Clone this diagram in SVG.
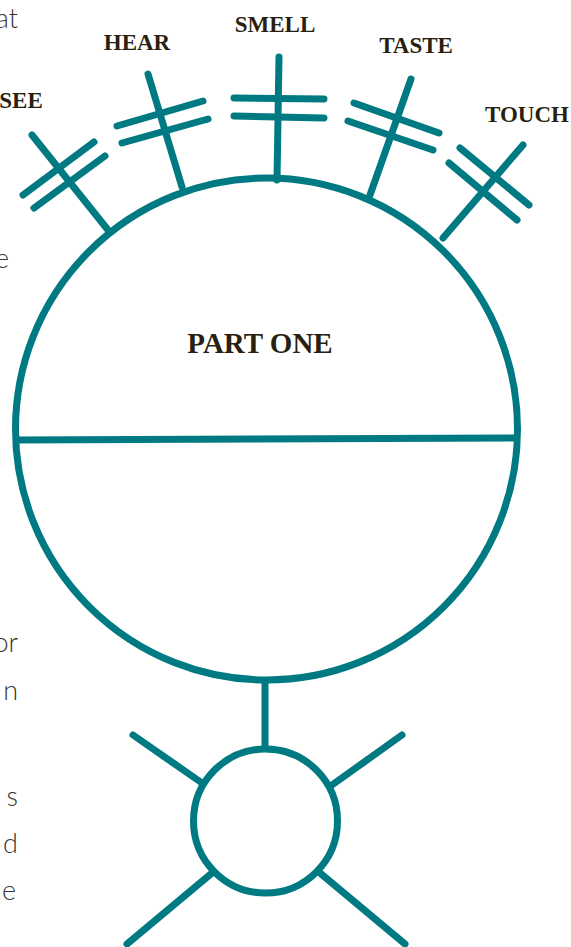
<svg xmlns="http://www.w3.org/2000/svg" width="571" height="947" viewBox="0 0 571 947">
<style>
.t{stroke:#007a82;stroke-width:7;fill:none;stroke-linecap:round}
.c{stroke:#007a82;stroke-width:7;fill:none}
.lbl{font-family:"Liberation Serif","Times New Roman",serif;font-weight:bold;fill:#2a1f10;font-size:23px;text-anchor:middle}
.frag{font-family:Lato,"Open Sans",sans-serif;font-weight:300;fill:#3a3530;font-size:27px;text-anchor:end}
</style>
<rect width="571" height="947" fill="#ffffff"/>
<g id="fragments">
<text class="frag" x="18" y="28">at</text>
<text class="frag" x="9" y="268">e</text>
<text class="frag" x="18" y="652">or</text>
<text class="frag" x="18" y="700">n</text>
<text class="frag" x="18" y="806">s</text>
<text class="frag" x="18" y="853">d</text>
<text class="frag" x="16" y="900">e</text>
</g>
<g id="connectors">
<line class="t" x1="265" y1="680" x2="265" y2="748" style="stroke-linecap:butt"/>
<line class="t" x1="133" y1="735" x2="202" y2="783"/>
<line class="t" x1="402" y1="735" x2="332" y2="785"/>
<line class="t" x1="212" y1="873" x2="127" y2="944"/>
<line class="t" x1="320" y1="873" x2="405" y2="944"/>
</g>
<g id="part-one">
<circle class="c" cx="266.5" cy="429" r="251"/>
<line class="c" x1="15" y1="440" x2="518" y2="438"/>
<text class="lbl" x="260" y="353" style="font-size:29px">PART ONE</text>
</g>
<g id="base">
<circle class="c" cx="265.5" cy="821" r="72"/>
</g>
<g id="see">
<line class="t" x1="32" y1="135" x2="108" y2="230"/>
<line class="t" x1="23" y1="195" x2="94" y2="142"/>
<line class="t" x1="34" y1="208" x2="105" y2="156"/>
<text class="lbl" x="21" y="108">SEE</text>
</g>
<g id="hear">
<line class="t" x1="148" y1="74" x2="182" y2="187"/>
<line class="t" x1="117" y1="126" x2="203" y2="101"/>
<line class="t" x1="122" y1="143" x2="208" y2="119"/>
<text class="lbl" x="137" y="50">HEAR</text>
</g>
<g id="smell">
<line class="t" x1="279" y1="57" x2="277" y2="180"/>
<line class="t" x1="234" y1="98" x2="324" y2="99"/>
<line class="t" x1="234" y1="116" x2="324" y2="118"/>
<text class="lbl" x="275" y="32">SMELL</text>
</g>
<g id="taste">
<line class="t" x1="411" y1="79" x2="370" y2="195"/>
<line class="t" x1="354" y1="103" x2="439" y2="133"/>
<line class="t" x1="348" y1="121" x2="433" y2="150"/>
<text class="lbl" x="416" y="53">TASTE</text>
</g>
<g id="touch">
<line class="t" x1="523" y1="145" x2="443" y2="238"/>
<line class="t" x1="460" y1="148" x2="529" y2="205"/>
<line class="t" x1="449" y1="163" x2="517" y2="220"/>
<text class="lbl" x="527" y="122">TOUCH</text>
</g>
</svg>
